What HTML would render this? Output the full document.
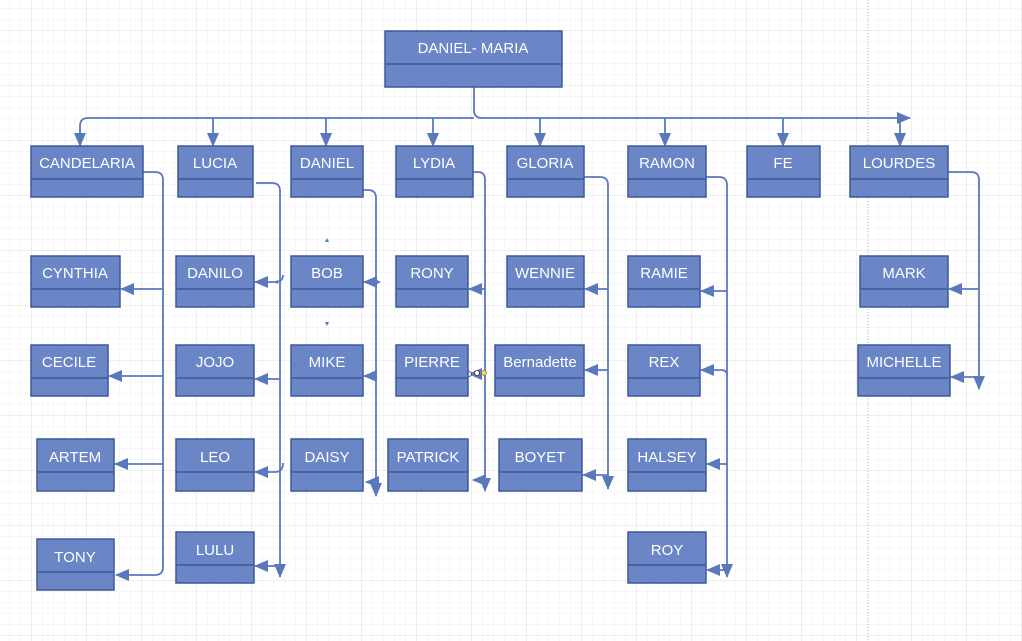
<!DOCTYPE html>
<html><head><meta charset="utf-8"><style>
html,body{margin:0;padding:0;background:#fff;}
svg{display:block;}
text{font-family:"Liberation Sans",sans-serif;font-size:15px;fill:#fff;text-anchor:middle;}
</style></head><body>
<svg width="1022" height="641" viewBox="0 0 1022 641" xmlns="http://www.w3.org/2000/svg">
<defs>
<pattern id="minor" width="11" height="11" patternUnits="userSpaceOnUse" x="-1" y="9">
<path d="M11 0V11M0 11H11" stroke="#efefef" stroke-width="1" fill="none"/></pattern>
<pattern id="major" width="55" height="55" patternUnits="userSpaceOnUse" x="-23" y="-24">
<path d="M55 0V55M0 55H55" stroke="#dedede" stroke-width="1" fill="none"/></pattern>
<marker id="a" markerWidth="14" markerHeight="12" refX="13" refY="6" orient="auto" markerUnits="userSpaceOnUse">
<path d="M0,0 L14,6 L0,12 Z" fill="#5a79bd"/></marker>
</defs>
<rect width="1022" height="641" fill="url(#minor)"/>
<rect width="1022" height="641" fill="url(#major)"/>
<line x1="868" y1="0" x2="868" y2="641" stroke="#bbb" stroke-dasharray="1,2"/>

<g fill="none" stroke="#5a79bd" stroke-width="1.8">
<path d="M474 87V110Q474 118 482 118H910" marker-end="url(#a)"/>
<path d="M80 146V126Q80 118 88 118H474"/>
<path d="M213 118V146" marker-end="url(#a)"/>
<path d="M80 130V146" marker-end="url(#a)"/>
<path d="M326 118V146" marker-end="url(#a)"/>
<path d="M433 118V146" marker-end="url(#a)"/>
<path d="M540 118V146" marker-end="url(#a)"/>
<path d="M665 118V146" marker-end="url(#a)"/>
<path d="M783 118V146" marker-end="url(#a)"/>
<path d="M900 118V146" marker-end="url(#a)"/>
<path d="M143 172H155Q163 172 163 180V567Q163 575 155 575H116" marker-end="url(#a)"/>
<path d="M163 289H121" marker-end="url(#a)"/>
<path d="M163 376H109" marker-end="url(#a)"/>
<path d="M163 464H115" marker-end="url(#a)"/>
<path d="M256 183H272Q280 183 280 191V577" marker-end="url(#a)"/>
<path d="M283 275Q283 282 275 282H255" marker-end="url(#a)"/>
<path d="M280 379H255" marker-end="url(#a)"/>
<path d="M283 463Q283 472 275 472H255" marker-end="url(#a)"/>
<path d="M280 566H255" marker-end="url(#a)"/>
<path d="M363 190H368Q376 190 376 198V496" marker-end="url(#a)"/>
<path d="M376 282H364" marker-end="url(#a)"/>
<path d="M376 376H364" marker-end="url(#a)"/>
<path d="M376 482H366" marker-end="url(#a)"/>
<path d="M473 172H478Q485 172 485 180V491" marker-end="url(#a)"/>
<path d="M485 289H469" marker-end="url(#a)"/>
<path d="M485 374H469" marker-end="url(#a)"/>
<path d="M485 480H473" marker-end="url(#a)"/>
<path d="M584 177H600Q608 177 608 185V489" marker-end="url(#a)"/>
<path d="M608 289H585" marker-end="url(#a)"/>
<path d="M608 370H585" marker-end="url(#a)"/>
<path d="M608 475H583" marker-end="url(#a)"/>
<path d="M706 177H719Q727 177 727 185V577" marker-end="url(#a)"/>
<path d="M727 291H701" marker-end="url(#a)"/>
<path d="M727 375Q727 370 721 370H701" marker-end="url(#a)"/>
<path d="M727 464H707" marker-end="url(#a)"/>
<path d="M727 570H707" marker-end="url(#a)"/>
<path d="M948 172H971Q979 172 979 180V389" marker-end="url(#a)"/>
<path d="M979 289H949" marker-end="url(#a)"/>
<path d="M979 377H951" marker-end="url(#a)"/>
</g>
<circle cx="469" cy="374" r="2.5" fill="#fff" stroke="#333" stroke-width="0.8"/>
<circle cx="477" cy="373" r="2.5" fill="#fff" stroke="#333" stroke-width="0.8"/>
<circle cx="484" cy="373" r="2.5" fill="#f2d36b" stroke="#9a8030" stroke-width="0.8"/>

<g stroke="#3c5896" stroke-width="1.5">
<g fill="#6a86c6">
<rect x="385" y="31" width="177" height="56"/>
<rect x="31" y="146" width="112" height="51"/><rect x="178" y="146" width="75" height="51"/>
<rect x="291" y="146" width="72" height="51"/><rect x="396" y="146" width="77" height="51"/>
<rect x="507" y="146" width="77" height="51"/><rect x="628" y="146" width="78" height="51"/>
<rect x="747" y="146" width="73" height="51"/><rect x="850" y="146" width="98" height="51"/>
<rect x="31" y="256" width="89" height="51"/><rect x="176" y="256" width="78" height="51"/>
<rect x="291" y="256" width="72" height="51"/><rect x="396" y="256" width="72" height="51"/>
<rect x="507" y="256" width="77" height="51"/><rect x="628" y="256" width="72" height="51"/>
<rect x="860" y="256" width="88" height="51"/>
<rect x="31" y="345" width="77" height="51"/><rect x="176" y="345" width="78" height="51"/>
<rect x="291" y="345" width="72" height="51"/><rect x="396" y="345" width="72" height="51"/>
<rect x="495" y="345" width="89" height="51"/><rect x="628" y="345" width="72" height="51"/>
<rect x="858" y="345" width="92" height="51"/>
<rect x="37" y="439" width="77" height="52"/><rect x="176" y="439" width="78" height="52"/>
<rect x="291" y="439" width="72" height="52"/><rect x="388" y="439" width="80" height="52"/>
<rect x="499" y="439" width="83" height="52"/><rect x="628" y="439" width="78" height="52"/>
<rect x="37" y="539" width="77" height="51"/><rect x="176" y="532" width="78" height="51"/>
<rect x="628" y="532" width="78" height="51"/>
</g>
<path fill="none" d="M385 64H562M31 179H143M178 179H253M291 179H363M396 179H473M507 179H584M628 179H706M747 179H820M850 179H948
M31 289H120M176 289H254M291 289H363M396 289H468M507 289H584M628 289H700M860 289H948
M31 378H108M176 378H254M291 378H363M396 378H468M495 378H584M628 378H700M858 378H950
M37 472H114M176 472H254M291 472H363M388 472H468M499 472H582M628 472H706
M37 572H114M176 565H254M628 565H706"/>
</g>
<text x="473" y="53">DANIEL- MARIA</text>
<text x="87" y="168">CANDELARIA</text><text x="215" y="168">LUCIA</text><text x="327" y="168">DANIEL</text>
<text x="434" y="168">LYDIA</text><text x="545" y="168">GLORIA</text><text x="667" y="168">RAMON</text>
<text x="783" y="168">FE</text><text x="899" y="168">LOURDES</text>
<text x="75" y="278">CYNTHIA</text><text x="215" y="278">DANILO</text><text x="327" y="278">BOB</text>
<text x="432" y="278">RONY</text><text x="545" y="278">WENNIE</text><text x="664" y="278">RAMIE</text>
<text x="904" y="278">MARK</text>
<text x="69" y="367">CECILE</text><text x="215" y="367">JOJO</text><text x="327" y="367">MIKE</text>
<text x="432" y="367">PIERRE</text><text x="540" y="367">Bernadette</text><text x="664" y="367">REX</text>
<text x="904" y="367">MICHELLE</text>
<text x="75" y="462">ARTEM</text><text x="215" y="462">LEO</text><text x="327" y="462">DAISY</text>
<text x="428" y="462">PATRICK</text><text x="540" y="462">BOYET</text><text x="667" y="462">HALSEY</text>
<text x="75" y="562">TONY</text><text x="215" y="555">LULU</text><text x="667" y="555">ROY</text>
<g fill="#5a79bd"><path d="M327 238l-2 4h4z"/><path d="M327 326l-2-4h4z"/><path d="M274 282l4-2v4z"/><path d="M381 282l-4-2v4z"/></g>
</svg>
</body></html>
